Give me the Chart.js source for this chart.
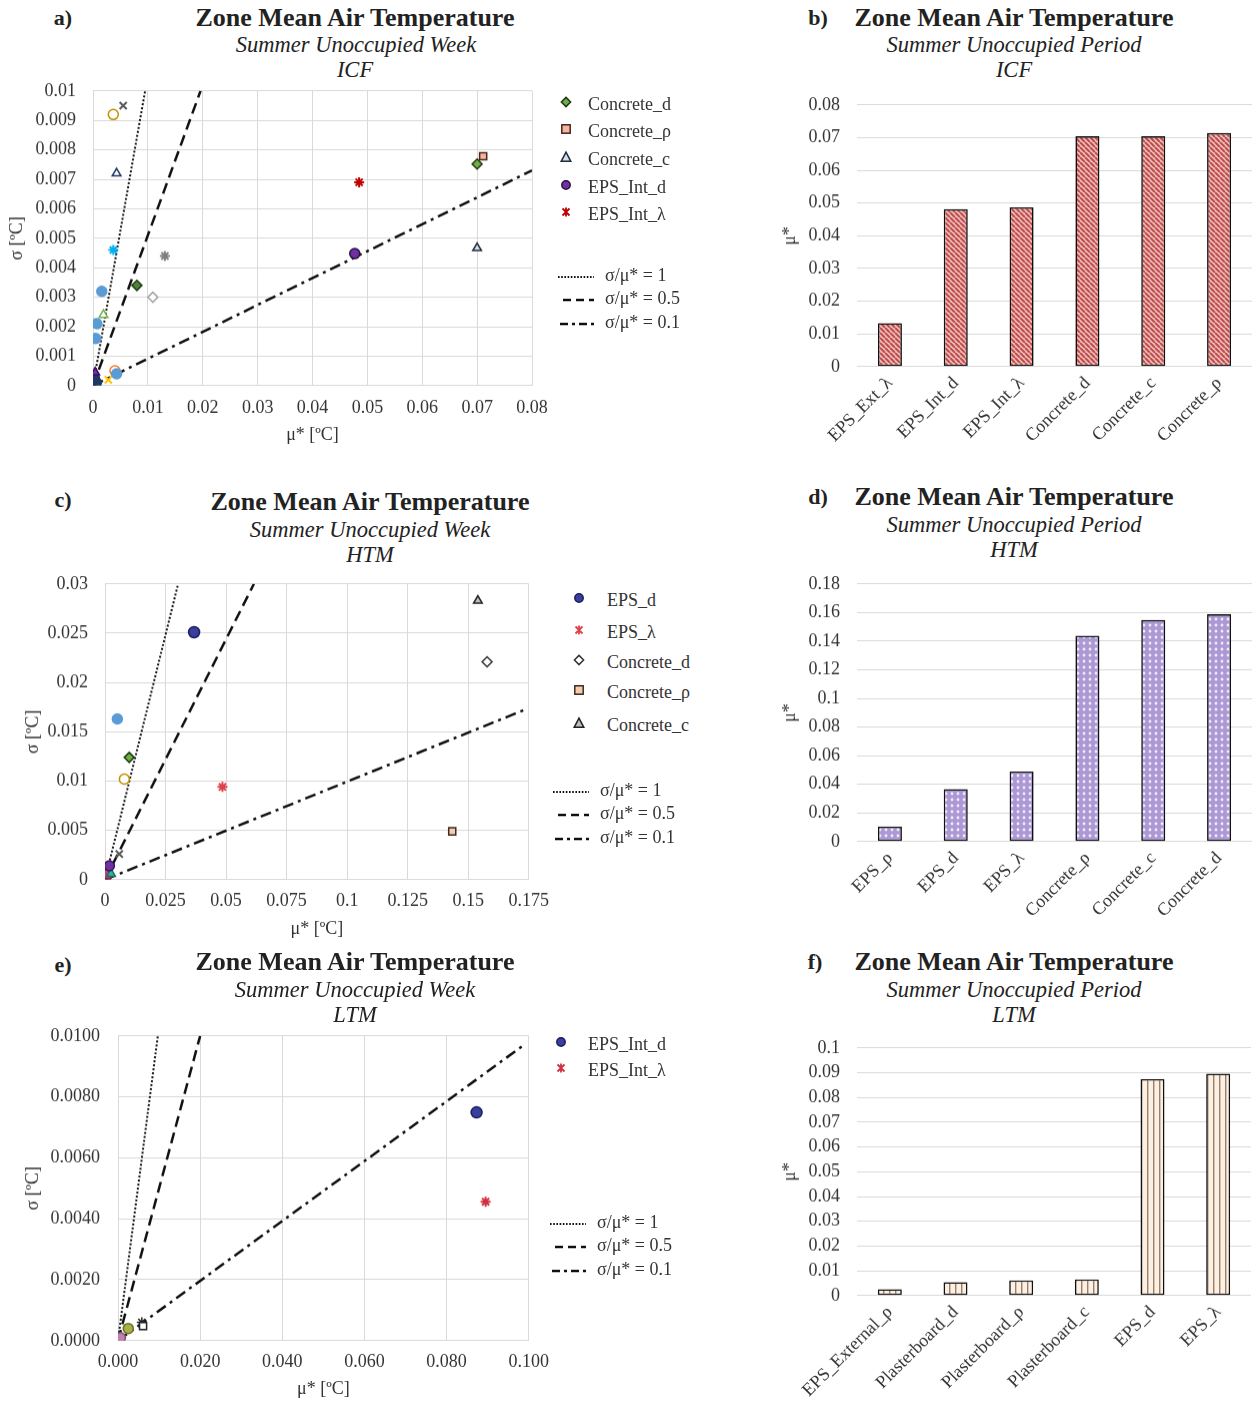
<!DOCTYPE html>
<html>
<head>
<meta charset="utf-8">
<script src="https://cdn.jsdelivr.net/npm/chart.js@4.4.1/dist/chart.umd.min.js"></script>
<style>
  body { margin: 0; background: #fff; width: 1257px; height: 1403px; position: relative; overflow: hidden;
         font-family: "Liberation Serif", "Times New Roman", serif; color: #222; }
  canvas { position: absolute; }
  .t { position: absolute; transform: translate(-50%, -50%); white-space: nowrap; }
  .h { font-weight: bold; font-size: 26px; }
  .s { font-style: italic; font-size: 22.5px; }
  .p { font-weight: bold; font-size: 22px; }
  .lg { position: absolute; font-size: 18px; white-space: nowrap; transform: translateY(-50%); color: #333; }
  .mk { position: absolute; transform: translate(-50%, -50%); }
  .ln { position: absolute; transform: translateY(-50%); }
</style>
</head>
<body>
<script>
// ---- a) ICF, sigma vs mu* ----
const aXTicks = [0, 0.01, 0.02, 0.03, 0.04, 0.05, 0.06, 0.07, 0.08];
const aXLabels = ["0", "0.01", "0.02", "0.03", "0.04", "0.05", "0.06", "0.07", "0.08"];
const aYTicks = [0, 0.001, 0.002, 0.003, 0.004, 0.005, 0.006, 0.007, 0.008, 0.009, 0.01];
const aYLabels = ["0", "0.001", "0.002", "0.003", "0.004", "0.005", "0.006", "0.007", "0.008", "0.009", "0.01"];
const aConcreteD = [{ x: 0.0700, y: 0.00752 }];
const aConcreteRho = [{ x: 0.0711, y: 0.00778 }];
const aConcreteC = [{ x: 0.0700, y: 0.00467 }];
const aEpsIntD = [{ x: 0.0477, y: 0.00448 }];
const aEpsIntLambda = [{ x: 0.0485, y: 0.00690 }];
// parameters without a legend entry
const aBlueDots = [{ x: 0.0016, y: 0.0032 }, { x: 0.0007, y: 0.0021 }, { x: 0.0005, y: 0.0016 }, { x: 0.0043, y: 0.0004 }];
const aGoldRing = [{ x: 0.0037, y: 0.0092 }];
const aGrayCross = [{ x: 0.0055, y: 0.0095 }];
const aNavyTri = [{ x: 0.0043, y: 0.0072 }];
const aCyanStar = [{ x: 0.0037, y: 0.0046 }];
const aGrayStar = [{ x: 0.0131, y: 0.0044 }];
const aGreenDia = [{ x: 0.0080, y: 0.0034 }];
const aGrayDia = [{ x: 0.0109, y: 0.0030 }];
const aGreenTri = [{ x: 0.0019, y: 0.0024 }];
const aOrangeRing = [{ x: 0.0040, y: 0.0005 }];
const aGoldCross = [{ x: 0.0028, y: 0.0002 }];
const aPurpleTri = [{ x: 0.0004, y: 0.00045 }];
const aOriginDots = [{ x: 0.0003, y: 0.0002 }, { x: 0.0006, y: 0.0001 }, { x: 0.0002, y: 0.0003 }];
const aRatio1 = [{ x: 0, y: 0 }, { x: 0.0095, y: 0.01 }];
const aRatio05 = [{ x: 0, y: 0 }, { x: 0.0196, y: 0.01 }];
const aRatio01 = [{ x: 0, y: 0 }, { x: 0.08, y: 0.0073 }];

// ---- b) ICF, mu* bars ----
const bCategories = ["EPS_Ext_λ", "EPS_Int_d", "EPS_Int_λ", "Concrete_d", "Concrete_c", "Concrete_ρ"];
const bValues = [0.0133, 0.0481, 0.0487, 0.0704, 0.0704, 0.0714];
const bYTicks = [0, 0.01, 0.02, 0.03, 0.04, 0.05, 0.06, 0.07, 0.08];
const bYLabels = ["0", "0.01", "0.02", "0.03", "0.04", "0.05", "0.06", "0.07", "0.08"];

// ---- c) HTM, sigma vs mu* ----
const cXTicks = [0, 0.025, 0.05, 0.075, 0.1, 0.125, 0.15, 0.175];
const cXLabels = ["0", "0.025", "0.05", "0.075", "0.1", "0.125", "0.15", "0.175"];
const cYTicks = [0, 0.005, 0.01, 0.015, 0.02, 0.025, 0.03];
const cYLabels = ["0", "0.005", "0.01", "0.015", "0.02", "0.025", "0.03"];
const cEpsD = [{ x: 0.0368, y: 0.0251 }];
const cEpsLambda = [{ x: 0.0485, y: 0.0094 }];
const cConcreteD = [{ x: 0.1578, y: 0.0221 }];
const cConcreteRho = [{ x: 0.1434, y: 0.0049 }];
const cConcreteC = [{ x: 0.1540, y: 0.0283 }];
const cBlueDot = [{ x: 0.0051, y: 0.0163 }];
const cGreenDia = [{ x: 0.0100, y: 0.0124 }];
const cGoldRing = [{ x: 0.0080, y: 0.0102 }];
const cGrayCross = [{ x: 0.0059, y: 0.0026 }];
const cPurpleDot = [{ x: 0.0018, y: 0.0014 }];
const cTealTri = [{ x: 0.0025, y: 0.0006 }];
const cOriginDots = [{ x: 0.0005, y: 0.0003 }, { x: 0.0010, y: 0.0006 }];
const cRatio1 = [{ x: 0, y: 0 }, { x: 0.0302, y: 0.03 }];
const cRatio05 = [{ x: 0, y: 0 }, { x: 0.0615, y: 0.03 }];
const cRatio01 = [{ x: 0, y: 0 }, { x: 0.173, y: 0.0172 }];

// ---- d) HTM, mu* bars ----
const dCategories = ["EPS_ρ", "EPS_d", "EPS_λ", "Concrete_ρ", "Concrete_c", "Concrete_d"];
const dValues = [0.0105, 0.0367, 0.0489, 0.1438, 0.1548, 0.1588];
const dYTicks = [0, 0.02, 0.04, 0.06, 0.08, 0.1, 0.12, 0.14, 0.16, 0.18];
const dYLabels = ["0", "0.02", "0.04", "0.06", "0.08", "0.1", "0.12", "0.14", "0.16", "0.18"];

// ---- e) LTM, sigma vs mu* ----
const eXTicks = [0, 0.02, 0.04, 0.06, 0.08, 0.1];
const eXLabels = ["0.000", "0.020", "0.040", "0.060", "0.080", "0.100"];
const eYTicks = [0, 0.002, 0.004, 0.006, 0.008, 0.01];
const eYLabels = ["0.0000", "0.0020", "0.0040", "0.0060", "0.0080", "0.0100"];
const eEpsIntD = [{ x: 0.0873, y: 0.00749 }];
const eEpsIntLambda = [{ x: 0.0895, y: 0.00456 }];
const eBlackSquare = [{ x: 0.0061, y: 0.00048 }];
const eBlackStar = [{ x: 0.0058, y: 0.00060 }];
const eOliveDot = [{ x: 0.0025, y: 0.00040 }];
const eOriginDots = [{ x: 0.0002, y: 0.00002 }, { x: 0.0006, y: 0.00010 }];
const eRatio1 = [{ x: 0, y: 0 }, { x: 0.0097, y: 0.01 }];
const eRatio05 = [{ x: 0, y: 0 }, { x: 0.0200, y: 0.01 }];
const eRatio01 = [{ x: 0, y: 0 }, { x: 0.0992, y: 0.00974 }];

// ---- f) LTM, mu* bars ----
const fCategories = ["EPS_External_ρ", "Plasterboard_d", "Plasterboard_ρ", "Plasterboard_c", "EPS_d", "EPS_λ"];
const fValues = [0.0026, 0.0054, 0.0061, 0.0065, 0.0874, 0.0896];
const fYTicks = [0, 0.01, 0.02, 0.03, 0.04, 0.05, 0.06, 0.07, 0.08, 0.09, 0.1];
const fYLabels = ["0", "0.01", "0.02", "0.03", "0.04", "0.05", "0.06", "0.07", "0.08", "0.09", "0.1"];

const GRID = "#d9d9d9";
const TICK = "#333";

Chart.defaults.font.family = "'Liberation Serif', 'Times New Roman', serif";
Chart.defaults.font.size = 18;
Chart.defaults.color = TICK;
Chart.defaults.animation = false;

function makeCanvas(box) {
  const cv = document.createElement("canvas");
  cv.width = box.width;
  cv.height = box.height;
  cv.style.left = box.left + "px";
  cv.style.top = box.top + "px";
  cv.style.width = box.width + "px";
  cv.style.height = box.height + "px";
  document.body.appendChild(cv);
  return cv;
}

// builds the chart, then nudges the canvas until the plot area sits where the reference has it
function placeChart(box, area, makeConfig) {
  let b = { ...box };
  let xH = b.top + b.height - area.b;
  let chart = null;
  for (let k = 0; k < 4; k++) {
    const cv = makeCanvas(b);
    chart = new Chart(cv, makeConfig(b, xH));
    const ca = chart.chartArea;
    const dTop = b.top + ca.top - area.t;
    const dBot = b.top + ca.bottom - area.b;
    if ((Math.abs(dTop) < 0.5 && Math.abs(dBot) < 0.5) || k === 3) break;
    chart.destroy();
    cv.remove();
    b = { ...b, top: b.top - dTop, height: b.height + dTop };
    xH += dBot;
  }
  return chart;
}

function addText(cls, text, x, y) {
  const d = document.createElement("div");
  d.className = "t " + cls;
  d.textContent = text;
  d.style.left = x + "px";
  d.style.top = y + "px";
  document.body.appendChild(d);
}

function pts(data, style, fill, stroke, r = 5, w = 1.5) {
  return { data, pointStyle: style, pointBackgroundColor: fill, pointBorderColor: stroke, pointRadius: r, pointBorderWidth: w };
}

function ratioLine(data, dash, w) {
  return { data, showLine: true, pointRadius: 0, borderColor: "#111", borderWidth: w, borderDash: dash, fill: false };
}

function ratioLines(r1, r05, r01) {
  return [ratioLine(r1, [2, 2], 2), ratioLine(r05, [11, 6], 2.5), ratioLine(r01, [11, 5, 3, 5], 2.5)];
}

function scatterChart(box, area, xT, xL, yT, yL, datasets, pad) {
  return placeChart(box, area, (b, xH) => ({
    type: "scatter",
    data: { datasets },
    options: {
      responsive: false,
      animation: false,
      layout: { padding: { top: area.t - b.top, right: b.left + b.width - area.r, left: 0, bottom: 0 } },
      plugins: { legend: { display: false }, tooltip: { enabled: false } },
      scales: {
        x: {
          type: "linear",
          min: xT[0],
          max: xT[xT.length - 1],
          afterBuildTicks: (s) => { s.ticks = xT.map((v) => ({ value: v })); },
          afterFit: (s) => { s.height = xH; },
          ticks: { autoSkip: false, maxRotation: 0, padding: pad.xt, callback: (v, i) => xL[i] },
          grid: { color: GRID, drawTicks: false },
          border: { color: GRID },
          title: { display: true, text: "μ* [ºC]", color: TICK, padding: { top: 0, bottom: pad.xb } }
        },
        y: {
          type: "linear",
          min: yT[0],
          max: yT[yT.length - 1],
          afterBuildTicks: (s) => { s.ticks = yT.map((v) => ({ value: v })); },
          afterFit: (s) => { s.width = area.l - b.left; },
          ticks: { autoSkip: false, padding: pad.yt, callback: (v, i) => yL[i] },
          grid: { color: GRID, drawTicks: false },
          border: { color: GRID },
          title: { display: true, text: "σ [ºC]", color: TICK, padding: { top: pad.yb, bottom: 0 } }
        }
      }
    }
  }));
}

function barChart(box, area, labels, values, yT, yL, fill, pad) {
  return placeChart(box, area, (b, xH) => ({
    type: "bar",
    data: {
      labels,
      datasets: [{
        data: values,
        backgroundColor: fill,
        borderColor: "#111",
        borderWidth: 1.6,
        borderSkipped: false,
        categoryPercentage: 1,
        barPercentage: 0.365
      }]
    },
    options: {
      responsive: false,
      animation: false,
      layout: { padding: { top: area.t - b.top, right: b.left + b.width - area.r, left: 0, bottom: 0 } },
      plugins: { legend: { display: false }, tooltip: { enabled: false } },
      scales: {
        x: {
          afterFit: (s) => { s.height = xH; },
          ticks: { autoSkip: false, minRotation: 45, maxRotation: 45, padding: pad.xt },
          grid: { display: false, drawTicks: false },
          border: { display: false }
        },
        y: {
          min: yT[0],
          max: yT[yT.length - 1],
          afterBuildTicks: (s) => { s.ticks = yT.map((v) => ({ value: v })); },
          afterFit: (s) => { s.width = area.l - b.left; },
          ticks: { autoSkip: false, padding: pad.yt, callback: (v, i) => yL[i] },
          grid: { color: GRID, drawTicks: false },
          border: { display: false },
          title: { display: true, text: "μ*", color: TICK, padding: { top: pad.yb, bottom: 0 } }
        }
      }
    }
  }));
}

function tile(w, h, draw) {
  const c = document.createElement("canvas");
  c.width = w;
  c.height = h;
  const g = c.getContext("2d");
  draw(g, w, h);
  return g.createPattern(c, "repeat");
}

const redHatch = tile(5, 5, (g, n) => {
  g.fillStyle = "#f3cccc";
  g.fillRect(0, 0, n, n);
  g.strokeStyle = "#bf4a47";
  g.lineWidth = 2.2;
  g.beginPath();
  [-n, 0, n].forEach((k) => { g.moveTo(k, 0); g.lineTo(k + n, n); });
  g.stroke();
});

const purpleDots = tile(6, 6, (g, n) => {
  g.fillStyle = "#ab98d4";
  g.fillRect(0, 0, n, n);
  g.fillStyle = "#f4f0fb";
  g.beginPath();
  g.arc(3, 3, 1.4, 0, Math.PI * 2);
  g.fill();
});

const beigeStripes = tile(6, 2, (g, w, h) => {
  g.fillStyle = "#fbf0e4";
  g.fillRect(0, 0, w, h);
  g.fillStyle = "#a07e66";
  g.fillRect(0, 0, 1.4, h);
});

function markerSvg(style, fill, stroke) {
  let body = "";
  if (style === "circle") body = `<circle cx="7" cy="7" r="4.2" fill="${fill}" stroke="${stroke}" stroke-width="1.5"/>`;
  if (style === "rect") body = `<rect x="2.8" y="2.8" width="8.4" height="8.4" fill="${fill}" stroke="${stroke}" stroke-width="1.5"/>`;
  if (style === "triangle") body = `<polygon points="7,2.2 11.8,11.3 2.2,11.3" fill="${fill}" stroke="${stroke}" stroke-width="1.5"/>`;
  if (style === "rectRot") body = `<polygon points="7,2.4 11.6,7 7,11.6 2.4,7" fill="${fill}" stroke="${stroke}" stroke-width="1.5"/>`;
  if (style === "star") body = `<path d="M3.5 3.5L10.5 10.5M10.5 3.5L3.5 10.5M7 2.5V11.5" stroke="${stroke}" stroke-width="1.8" fill="none"/>`;
  return `<svg width="14" height="14" viewBox="0 0 14 14">${body}</svg>`;
}

function markerLegend(mx, tx, rows) {
  rows.forEach((r) => {
    const m = document.createElement("div");
    m.className = "mk";
    m.style.left = mx + "px";
    m.style.top = r.y + "px";
    m.innerHTML = markerSvg(r.style, r.fill, r.stroke);
    document.body.appendChild(m);
    const t = document.createElement("div");
    t.className = "lg";
    t.style.left = tx + "px";
    t.style.top = r.y + "px";
    t.textContent = r.text;
    document.body.appendChild(t);
  });
}

function lineLegend(lx, tx, ys) {
  const items = [
    { dash: "1.6,1.6", w: 2, text: "σ/μ* = 1", x0: 0 },
    { dash: "8,5", w: 2.5, text: "σ/μ* = 0.5", x0: 5 },
    { dash: "8,4,3,4", w: 2.5, text: "σ/μ* = 0.1", x0: 2 }
  ];
  items.forEach((it, i) => {
    const d = document.createElement("div");
    d.className = "ln";
    d.style.left = lx + "px";
    d.style.top = ys[i] + "px";
    d.innerHTML = `<svg width="38" height="6"><line x1="${it.x0}" y1="3" x2="36" y2="3" stroke="#111" stroke-width="${it.w}" stroke-dasharray="${it.dash}"/></svg>`;
    document.body.appendChild(d);
    const t = document.createElement("div");
    t.className = "lg";
    t.style.left = tx + "px";
    t.style.top = ys[i] + "px";
    t.textContent = it.text;
    document.body.appendChild(t);
  });
}

// ---------- panel a ----------
addText("p", "a)", 63, 18);
addText("h", "Zone Mean Air Temperature", 355, 18);
addText("s", "Summer Unoccupied Week", 356, 45);
addText("s", "ICF", 355, 70);
scatterChart(
  { left: 0, top: 70, width: 560, height: 390 },
  { l: 93, r: 532, t: 91, b: 385 },
  aXTicks, aXLabels, aYTicks, aYLabels,
  [
    pts(aConcreteD, "rectRot", "#70ad47", "#1f3a10"),
    pts(aConcreteRho, "rect", "#f4b6a0", "#4a2418"),
    pts(aConcreteC, "triangle", "#d6dce5", "#1f2d3d"),
    pts(aEpsIntD, "circle", "#7030a0", "#2a1040"),
    pts(aEpsIntLambda, "star", "#c00000", "#c00000", 5, 2),
    pts(aBlueDots, "circle", "#5b9bd5", "#5b9bd5"),
    pts(aGoldRing, "circle", "#ffffff", "#bf9000"),
    pts(aGrayCross, "crossRot", "#595959", "#595959", 5, 2),
    pts(aNavyTri, "triangle", "#ffffff", "#203864"),
    pts(aCyanStar, "star", "#00b0f0", "#00b0f0", 5, 2),
    pts(aGrayStar, "star", "#7f7f7f", "#7f7f7f", 5, 2),
    pts(aGreenDia, "rectRot", "#548235", "#1e3d12"),
    pts(aGrayDia, "rectRot", "#ffffff", "#a5a5a5"),
    pts(aGreenTri, "triangle", "#ffffff", "#70ad47"),
    pts(aOrangeRing, "circle", "#ffffff", "#ed7d31"),
    pts(aGoldCross, "crossRot", "#ffc000", "#ffc000", 5, 2),
    pts(aPurpleTri, "triangle", "#7030a0", "#3a1060"),
    pts(aOriginDots, "circle", "#203864", "#203864"),
    ...ratioLines(aRatio1, aRatio05, aRatio01)
  ],
  { xt: 12, xb: 14, yt: 17, yb: 6 }
);
markerLegend(566, 588, [
  { y: 104, style: "rectRot", fill: "#70ad47", stroke: "#1f3a10", text: "Concrete_d" },
  { y: 131, style: "rect", fill: "#f4b6a0", stroke: "#4a2418", text: "Concrete_ρ" },
  { y: 159, style: "triangle", fill: "#d6dce5", stroke: "#1f2d3d", text: "Concrete_c" },
  { y: 187, style: "circle", fill: "#7030a0", stroke: "#2a1040", text: "EPS_Int_d" },
  { y: 214, style: "star", fill: "none", stroke: "#c00000", text: "EPS_Int_λ" }
]);
lineLegend(558, 605, [275, 298, 322]);

// ---------- panel b ----------
addText("p", "b)", 818, 18);
addText("h", "Zone Mean Air Temperature", 1014, 18);
addText("s", "Summer Unoccupied Period", 1014, 45);
addText("s", "ICF", 1014, 70);
barChart(
  { left: 775, top: 90, width: 482, height: 365 },
  { l: 857, r: 1252, t: 105, b: 366 },
  bCategories, bValues, bYTicks, bYLabels, redHatch,
  { xt: 6, yt: 17, yb: 4 }
);

// ---------- panel c ----------
addText("p", "c)", 63, 500);
addText("h", "Zone Mean Air Temperature", 370, 502);
addText("s", "Summer Unoccupied Week", 370, 530);
addText("s", "HTM", 370, 555);
scatterChart(
  { left: 0, top: 565, width: 560, height: 385 },
  { l: 105, r: 530, t: 584, b: 879 },
  cXTicks, cXLabels, cYTicks, cYLabels,
  [
    pts(cEpsD, "circle", "#3a3f9f", "#1a1d5a", 5.5),
    pts(cEpsLambda, "star", "#e0404a", "#e0404a", 5, 2),
    pts(cConcreteD, "rectRot", "#ffffff", "#333333"),
    pts(cConcreteRho, "rect", "#f8cbad", "#3a2a20"),
    pts(cConcreteC, "triangle", "#bfbfbf", "#222222"),
    pts(cBlueDot, "circle", "#5b9bd5", "#5b9bd5"),
    pts(cGreenDia, "rectRot", "#70ad47", "#1e3d12"),
    pts(cGoldRing, "circle", "#ffffff", "#bf9000"),
    pts(cGrayCross, "crossRot", "#595959", "#595959", 5, 2),
    pts(cPurpleDot, "circle", "#7030a0", "#3a1060"),
    pts(cTealTri, "triangle", "#2fb5a0", "#1a7060"),
    pts(cOriginDots, "circle", "#c0407a", "#802050"),
    ...ratioLines(cRatio1, cRatio05, cRatio01)
  ],
  { xt: 11, xb: 10, yt: 17, yb: 22 }
);
markerLegend(579, 607, [
  { y: 600, style: "circle", fill: "#3a3f9f", stroke: "#1a1d5a", text: "EPS_d" },
  { y: 632, style: "star", fill: "none", stroke: "#e0404a", text: "EPS_λ" },
  { y: 662, style: "rectRot", fill: "#ffffff", stroke: "#333333", text: "Concrete_d" },
  { y: 692, style: "rect", fill: "#f8cbad", stroke: "#3a2a20", text: "Concrete_ρ" },
  { y: 725, style: "triangle", fill: "#bfbfbf", stroke: "#222222", text: "Concrete_c" }
]);
lineLegend(553, 600, [790, 813, 837]);

// ---------- panel d ----------
addText("p", "d)", 818, 497);
addText("h", "Zone Mean Air Temperature", 1014, 497);
addText("s", "Summer Unoccupied Period", 1014, 525);
addText("s", "HTM", 1014, 550);
barChart(
  { left: 775, top: 565, width: 482, height: 375 },
  { l: 857, r: 1252, t: 584, b: 841 },
  dCategories, dValues, dYTicks, dYLabels, purpleDots,
  { xt: 6, yt: 17, yb: 4 }
);

// ---------- panel e ----------
addText("p", "e)", 63, 965);
addText("h", "Zone Mean Air Temperature", 355, 962);
addText("s", "Summer Unoccupied Week", 355, 990);
addText("s", "LTM", 355, 1015);
scatterChart(
  { left: 0, top: 1020, width: 560, height: 383 },
  { l: 118, r: 530, t: 1036, b: 1340 },
  eXTicks, eXLabels, eYTicks, eYLabels,
  [
    pts(eEpsIntD, "circle", "#3a3f9f", "#1a1d5a", 5.5),
    pts(eEpsIntLambda, "star", "#d03040", "#d03040", 5, 2),
    pts(eBlackSquare, "rect", "#ffffff", "#222222"),
    pts(eBlackStar, "star", "#222222", "#222222", 5, 1.5),
    pts(eOliveDot, "circle", "#a9b04a", "#6a7020"),
    pts(eOriginDots, "circle", "#c080b0", "#805070"),
    ...ratioLines(eRatio1, eRatio05, eRatio01)
  ],
  { xt: 11, xb: 3, yt: 18, yb: 22 }
);
markerLegend(561, 588, [
  { y: 1044, style: "circle", fill: "#3a3f9f", stroke: "#1a1d5a", text: "EPS_Int_d" },
  { y: 1070, style: "star", fill: "none", stroke: "#d03040", text: "EPS_Int_λ" }
]);
lineLegend(550, 597, [1222, 1245, 1269]);

// ---------- panel f ----------
addText("p", "f)", 815, 962);
addText("h", "Zone Mean Air Temperature", 1014, 962);
addText("s", "Summer Unoccupied Period", 1014, 990);
addText("s", "LTM", 1014, 1015);
barChart(
  { left: 775, top: 1030, width: 482, height: 373 },
  { l: 857, r: 1251, t: 1048, b: 1295 },
  fCategories, fValues, fYTicks, fYLabels, beigeStripes,
  { xt: 6, yt: 17, yb: 4 }
);
</script>
</body>
</html>
